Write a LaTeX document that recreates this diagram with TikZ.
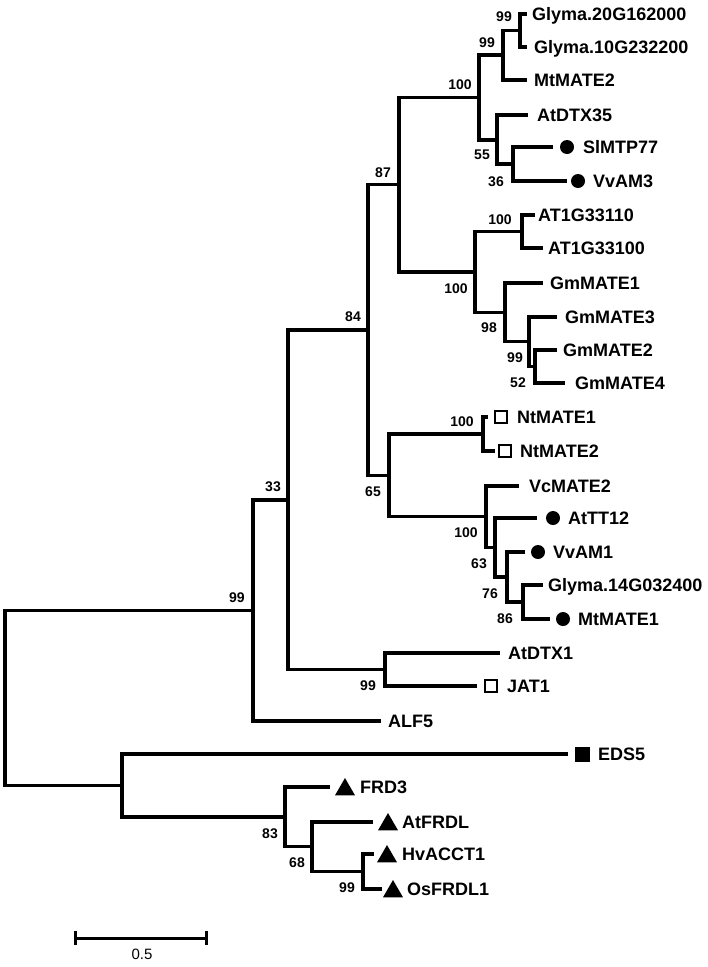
\documentclass[tikz,border=0pt]{standalone}
\usepackage{fontspec}
\setmainfont{Liberation Sans}
\usetikzlibrary{shapes.geometric}
\begin{document}
\begin{tikzpicture}[x=1pt,y=-1pt,
 br/.style={line width=3.3pt},
 leaf/.style={anchor=base west,inner sep=0pt,font=\fontsize{18}{20}\selectfont\bfseries},
 boot/.style={inner sep=0pt,font=\fontsize{14}{16}\selectfont\bfseries},
 dotm/.style={circle,fill=black,minimum size=14pt,inner sep=0pt},
 osq/.style={rectangle,draw=black,line width=1.4pt,minimum size=12pt,inner sep=0pt},
 fsq/.style={rectangle,fill=black,minimum size=15pt,inner sep=0pt},
 tri/.style={regular polygon,regular polygon sides=3,fill=black,minimum size=23pt,inner sep=0pt}]
\useasboundingbox (0,0) rectangle (708,967);
\fill[white] (0,0) rectangle (708,967);

% leaf tips
\coordinate (tG20) at (527,14);
\coordinate (tG10) at (527,47);
\coordinate (tMt2) at (527,80);
\coordinate (tDTX35) at (528,115);
\coordinate (tSl) at (553,147);
\coordinate (tVv3) at (567,181);
\coordinate (tAT10) at (535,215);
\coordinate (tAT00) at (543,248);
\coordinate (tGm1) at (543,283);
\coordinate (tGm3) at (557,317);
\coordinate (tGm2) at (557,350);
\coordinate (tGm4) at (565,383);
\coordinate (tNt1) at (488,417);
\coordinate (tNt2) at (495,451);
\coordinate (tVc) at (519,486);
\coordinate (tTT12) at (537,518);
\coordinate (tVv1) at (525,552);
\coordinate (tG14) at (543,585);
\coordinate (tMt1) at (550,619);
\coordinate (tDTX1) at (500,653);
\coordinate (tJAT) at (477,686);
\coordinate (tALF) at (381,721);
\coordinate (tEDS) at (568,754);
\coordinate (tFRD3) at (330,787);
\coordinate (tAtFRDL) at (373,822);
\coordinate (tHv) at (374,854);
\coordinate (tOs) at (382,889);

% internal nodes
\coordinate (n1) at (520,30.5);
\coordinate (n2) at (503,55);
\coordinate (n4) at (497,140);
\coordinate (n5) at (513,164);
\coordinate (n3) at (479,97.5);
\coordinate (n6) at (522,231.5);
\coordinate (n9) at (535,366.5);
\coordinate (n8) at (529,341.75);
\coordinate (n7) at (505,312.4);
\coordinate (n10) at (475,272);
\coordinate (n11) at (399,184.75);
\coordinate (n12) at (483,434);
\coordinate (n13) at (523,602);
\coordinate (n14) at (507,577);
\coordinate (n15) at (495,547.5);
\coordinate (n16) at (486,516.75);
\coordinate (n17) at (389,475.4);
\coordinate (n18) at (368,330);
\coordinate (n19) at (385,669.5);
\coordinate (n20) at (288,500);
\coordinate (n21) at (253,610.5);
\coordinate (n22) at (363,871.5);
\coordinate (n23) at (312,846.75);
\coordinate (n24) at (285,817);
\coordinate (n25) at (122,785.5);
\coordinate (root) at (5,698);

% branches
\foreach \a/\b in {root/n21,root/n25,n21/n20,n21/tALF,n20/n18,n20/n19,
  n18/n11,n18/n17,n11/n3,n11/n10,n3/n2,n3/n4,n2/n1,n2/tMt2,n1/tG20,n1/tG10,
  n4/tDTX35,n4/n5,n5/tSl,n5/tVv3,n10/n6,n10/n7,n6/tAT10,n6/tAT00,
  n7/tGm1,n7/n8,n8/tGm3,n8/n9,n9/tGm2,n9/tGm4,
  n17/n12,n17/n16,n12/tNt1,n12/tNt2,n16/tVc,n16/n15,n15/tTT12,n15/n14,
  n14/tVv1,n14/n13,n13/tG14,n13/tMt1,n19/tDTX1,n19/tJAT,
  n25/tEDS,n25/n24,n24/tFRD3,n24/n23,n23/tAtFRDL,n23/n22,n22/tHv,n22/tOs}
  \draw[br] (\a) |- (\b);

% markers
\node[dotm] (mSl) at (567,147) {};
\node[dotm] (mVv3) at (578,181) {};
\node[osq] (mNt1) at (501,417) {};
\node[osq] (mNt2) at (505,451) {};
\node[dotm] (mTT12) at (553,518) {};
\node[dotm] (mVv1) at (538,552) {};
\node[dotm] (mMt1) at (563,619) {};
\node[osq] (mJAT) at (491,686) {};
\node[fsq] (mEDS) at (582,754) {};
\node[tri] (mFRD3) at (345,789.5) {};
\node[tri] (mAtFRDL) at (388,824.5) {};
\node[tri] (mHv) at (387,856.5) {};
\node[tri] (mOs) at (393,891.5) {};

% leaf labels
\node[leaf] (lG20) at (532,20.5) {Glyma.20G162000};
\node[leaf] (lG10) at (534,53.5) {Glyma.10G232200};
\node[leaf] (lMt2) at (534,86.5) {MtMATE2};
\node[leaf] (lDTX35) at (537,121.5) {AtDTX35};
\node[leaf] (lSl) at (583,153.5) {SlMTP77};
\node[leaf] (lVv3) at (593,187.5) {VvAM3};
\node[leaf] (lAT10) at (538,221.5) {AT1G33110};
\node[leaf] (lAT00) at (548,254.5) {AT1G33100};
\node[leaf] (lGm1) at (550,289.5) {GmMATE1};
\node[leaf] (lGm3) at (565,323.5) {GmMATE3};
\node[leaf] (lGm2) at (563,356.5) {GmMATE2};
\node[leaf] (lGm4) at (575,389.5) {GmMATE4};
\node[leaf] (lNt1) at (517,423.5) {NtMATE1};
\node[leaf] (lNt2) at (520,457.5) {NtMATE2};
\node[leaf] (lVc) at (529,492.5) {VcMATE2};
\node[leaf] (lTT12) at (568,524.5) {AtTT12};
\node[leaf] (lVv1) at (553,558.5) {VvAM1};
\node[leaf] (lG14) at (548,591.5) {Glyma.14G032400};
\node[leaf] (lMt1) at (578,625.5) {MtMATE1};
\node[leaf] (lDTX1) at (508,659.5) {AtDTX1};
\node[leaf] (lJAT) at (507,692.5) {JAT1};
\node[leaf] (lALF) at (388,727.5) {ALF5};
\node[leaf] (lEDS) at (598,760.5) {EDS5};
\node[leaf] (lFRD3) at (360,793.5) {FRD3};
\node[leaf] (lAtFRDL) at (402,828.5) {AtFRDL};
\node[leaf] (lHv) at (402,860.5) {HvACCT1};
\node[leaf] (lOs) at (407,895.5) {OsFRDL1};

% bootstrap values
\node[boot] (b1) at (504,17) {99};
\node[boot] (b2) at (487,43) {99};
\node[boot] (b3) at (460,85) {100};
\node[boot] (b4) at (482,155) {55};
\node[boot] (b5) at (496,182) {36};
\node[boot] (b6) at (500,220) {100};
\node[boot] (b10) at (456,289) {100};
\node[boot] (b7) at (489,328) {98};
\node[boot] (b8) at (515,358) {99};
\node[boot] (b9) at (518,383) {52};
\node[boot] (b11) at (383,173) {87};
\node[boot] (b18) at (353,317) {84};
\node[boot] (b12) at (462,422) {100};
\node[boot] (b17) at (373,492) {65};
\node[boot] (b16) at (466,533) {100};
\node[boot] (b15) at (479,564) {63};
\node[boot] (b14) at (490,594) {76};
\node[boot] (b13) at (505,619) {86};
\node[boot] (b20) at (273,487) {33};
\node[boot] (b19) at (368,686) {99};
\node[boot] (b21) at (237,598) {99};
\node[boot] (b24) at (270,834) {83};
\node[boot] (b23) at (297,863) {68};
\node[boot] (b22) at (347,888) {99};

% scale bar
\coordinate (sbL) at (75,938);
\coordinate (sbR) at (206,938);
\draw[line width=3pt] (sbL) -- (sbR);
\draw[line width=3pt] (75,931) -- (75,945);
\draw[line width=3pt] (206,931) -- (206,945);
\node[inner sep=0pt,font=\fontsize{15}{17}\selectfont] (sbl) at (142,954) {0.5};
\end{tikzpicture}
\end{document}
